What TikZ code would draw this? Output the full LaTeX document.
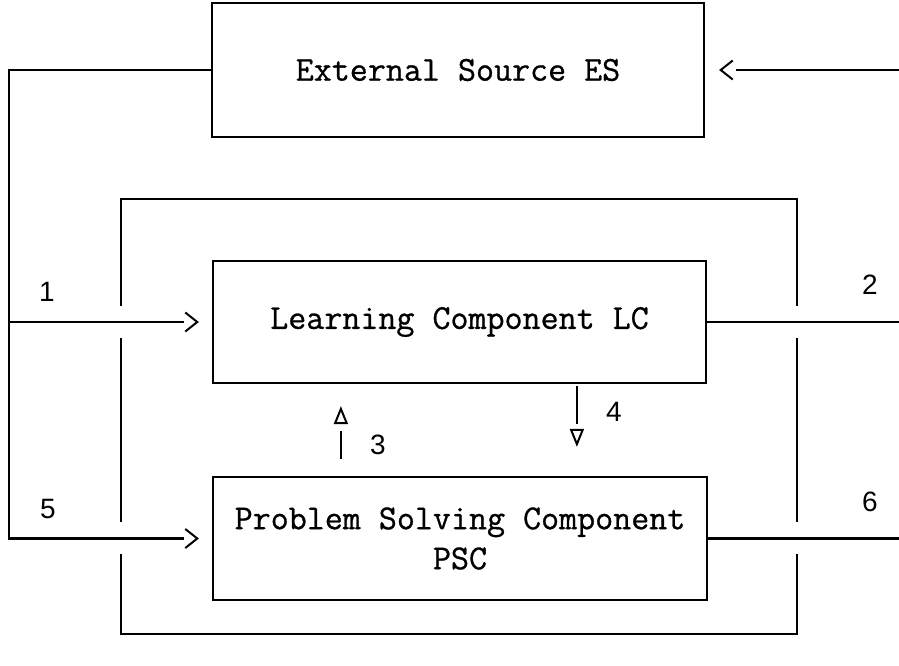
\documentclass[tikz,border=0pt]{standalone}
\usepackage{fontspec}
\newfontfamily\numfont{Liberation Sans}
\newfontfamily\typefont{Latin Modern Mono}[FakeBold=0.8]
\usetikzlibrary{arrows.meta,decorations.markings}

\begin{document}
\begin{tikzpicture}[x=1pt, y=-1pt, line width=2.2pt,
    block/.style={draw, inner sep=0pt, align=center, font=\typefont\fontsize{35}{40}\selectfont},
    num/.style={font=\numfont\fontsize{28}{30}\selectfont},
    % open head that stands a little off its line
    gaptip/.style n args={3}{shorten >=#2, postaction={decorate, decoration={markings,
        mark=at position -#3 with {\arrow[line width=2pt]{#1}}}}},
    flow/.style={gaptip={Straight Barb[length=12pt,width=19pt]}{28pt}{13pt}},
    upflow/.style={gaptip={Triangle[open,length=18pt,width=14pt]}{47pt}{22pt}},
    downflow/.style={gaptip={Triangle[open,length=18pt,width=14pt]}{52pt}{29pt}}]
            \useasboundingbox (0,0) rectangle (899,665);

            % the three components
            \node[block, minimum width=492pt, minimum height=134pt] (es) at (458,70) {External Source ES};
            \node[block, minimum width=493pt, minimum height=122pt] (lc) at (459.5,322) {Learning Component LC};
            \node[block, minimum width=494pt, minimum height=123pt] (psc) at (460,538.5) {Problem Solving Component\\PSC};

            % frame round LC and PSC, open where the lines pass
            \draw (121,306) -- (121,199) -- (797,199) -- (797,306)
                  (797,338) -- (797,522)
                  (797,554) -- (797,634) -- (121,634) -- (121,554)
                  (121,522) -- (121,338);

            \coordinate (corner) at (9,70);
            \coordinate (esin) at (899,70);
            \coordinate (lcout) at (899,322);
            \coordinate (pscout) at (899,538.5);

            \draw[flow] (es.west) -- (corner) -- (corner |- psc.west) -- (psc.west);
            \draw[flow] (corner |- lc.west) -- (lc.west);
            \draw[gaptip={Straight Barb[length=12pt,width=19pt]}{31pt}{14pt}] (esin) -- (es.east);
            \draw (lc.east) -- (lcout);
            \draw (psc.east) -- (pscout);

            \draw[upflow, shorten <=17pt] ([xshift=129pt]psc.north west) -- ([xshift=129pt]lc.south west);
            \draw[downflow, shorten <=2pt] ([xshift=365pt]lc.south west) -- ([xshift=365pt]psc.north west);

            % line numbers
            \node[num] (n1) at (47,292) {1};
            \node[num] (n2) at (870,285) {2};
            \node[num] (n3) at (378,445) {3};
            \node[num] (n4) at (614,412) {4};
            \node[num] (n5) at (48,509) {5};
            \node[num] (n6) at (870,502) {6};
\end{tikzpicture}
\end{document}
